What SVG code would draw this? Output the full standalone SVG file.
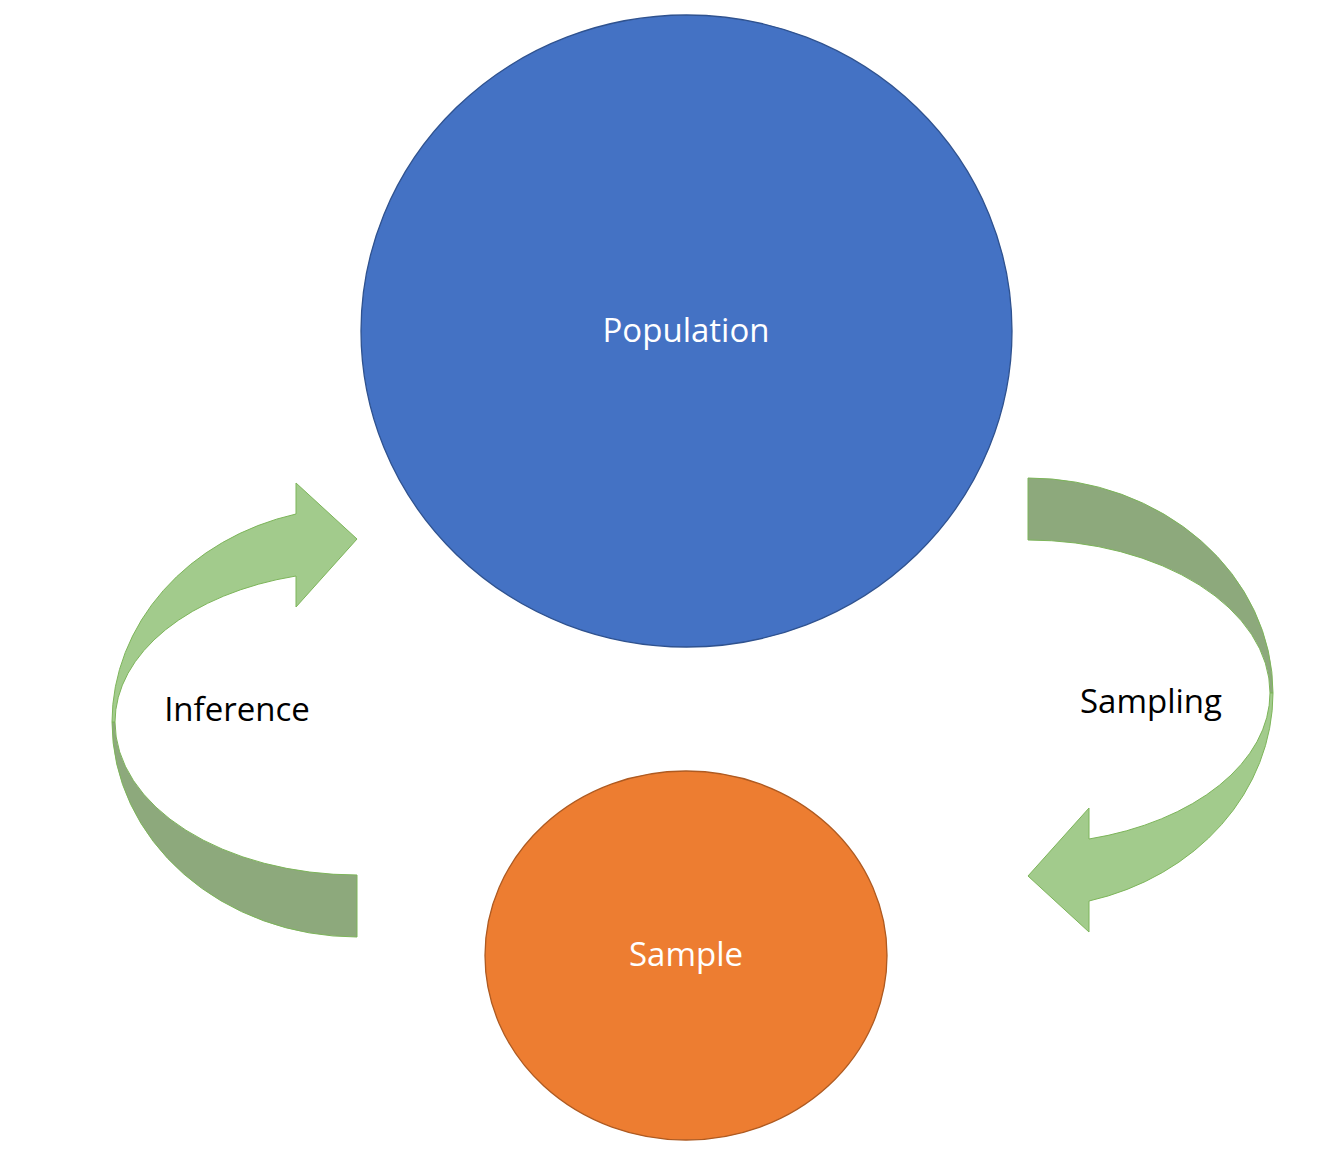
<svg xmlns="http://www.w3.org/2000/svg" width="1331" height="1151" viewBox="0 0 1331 1151">
  <defs>
    <style>
      .lbl { font-family: "Open Sans", "Noto Sans", sans-serif; font-size: 33px; text-anchor: middle; }
      .in { fill: #ffffff; }
      .out { fill: #000000; }
      .light { fill: #A2CB8C; stroke: #7DB55A; stroke-width: 1; }
      .dark { fill: #8DA97C; stroke: #7DB55A; stroke-width: 1; }
    </style>
    <g id="curvedArrow">
      <path class="dark" d="M357,937 A245 215 0 0 1 112,722 L115,722 A242 153 0 0 0 357,875 Z"/>
      <path class="light" d="M296,514 A245 215 0 0 0 112,722 L115,722 A242 151 0 0 1 296,576 L296,607 L357,539 L296,483 Z"/>
    </g>
  </defs>
  <rect width="1331" height="1151" fill="#ffffff"/>
  <g id="connectors">
    <g id="inference-arrow">
      <use href="#curvedArrow"/>
    </g>
    <g id="sampling-arrow">
      <use href="#curvedArrow" transform="rotate(180 692.5 707.5)"/>
    </g>
    <text class="lbl out" x="237" y="721">Inference</text>
    <text class="lbl out" x="1151" y="713">Sampling</text>
  </g>
  <g id="population">
    <ellipse cx="686.5" cy="331" rx="325.5" ry="316" fill="#4472C4" stroke="#2F528F" stroke-width="1.3"/>
    <text class="lbl in" x="686" y="342">Population</text>
  </g>
  <g id="sample">
    <ellipse cx="686" cy="955.5" rx="201" ry="184.5" fill="#ED7D31" stroke="#AE5A21" stroke-width="1.3"/>
    <text class="lbl in" x="686" y="966">Sample</text>
  </g>
</svg>
